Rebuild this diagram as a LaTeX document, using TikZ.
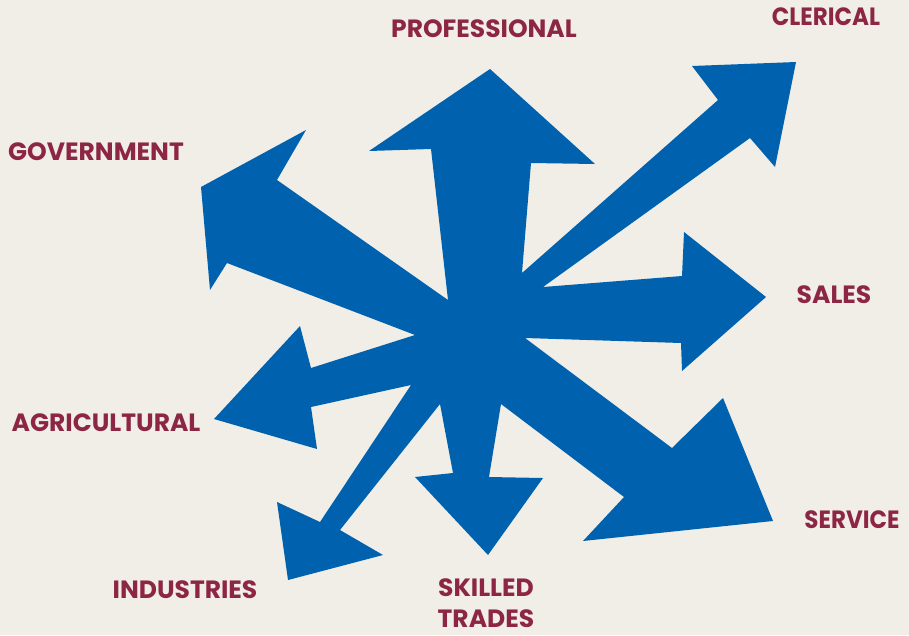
\documentclass[tikz,border=0pt]{standalone}
\usepackage{fontspec}
\setmainfont{Poppins}

\definecolor{rayblue}{RGB}{0,98,174}
\definecolor{jobred}{RGB}{140,38,68}
\definecolor{paper}{RGB}{240,238,230}

\begin{document}
\begin{tikzpicture}[x=1pt, y=-1pt,
    job/.style={text=jobred, inner sep=0pt,
      font=\bfseries\fontsize{25}{28}\selectfont}]
  \fill[paper] (0,0) rectangle (909,635);
  \useasboundingbox (0,0) rectangle (909,635);
  % all eight arrows as one outline, clockwise from the top one
  \fill[rayblue]
    % up
    (490,69) -- (595,164) -- (531,163) -- (522,273)
    % up right
    -- (718,100) -- (692,66) -- (796,62) -- (775,167) -- (750,138) -- (543,287)
    % right
    -- (682,276) -- (684,232) -- (766,297) -- (682,371) -- (681,343) -- (525,338)
    % down right
    -- (672,448) -- (723,398) -- (773,521) -- (583,541) -- (624,497) -- (501,404)
    % down
    -- (489,477) -- (543,478) -- (488,555) -- (415,477) -- (453,473) -- (440,404)
    % down left
    -- (340,530) -- (383,555) -- (288,580) -- (277,502) -- (320,522) -- (411,385)
    % left
    -- (311,407) -- (317,449) -- (214,419) -- (300,326) -- (311,368) -- (415,335)
    % up left
    -- (227,263) -- (210,290) -- (201,187) -- (306,130) -- (277,180) -- (448,300)
    % back up
    -- (431,149) -- (369,151) -- cycle;
  % labels
  \node[job] (prof)  at (484,28.5) {PROFESSIONAL};
  \node[job, xscale=0.92] (cler) at (826,17) {CLERICAL};
  \node[job] (gov)   at (96,152)   {GOVERNMENT};
  \node[job] (sales) at (834,295)  {SALES};
  \node[job] (agri)  at (106,423)  {AGRICULTURAL};
  \node[job, xscale=0.92] (serv) at (852,520) {SERVICE};
  \node[job] (ind)   at (185,590)  {INDUSTRIES};
  \node[job] (skill) at (486,588)  {SKILLED};
  \node[job] (trade) at (486,619)  {TRADES};
\end{tikzpicture}
\end{document}
